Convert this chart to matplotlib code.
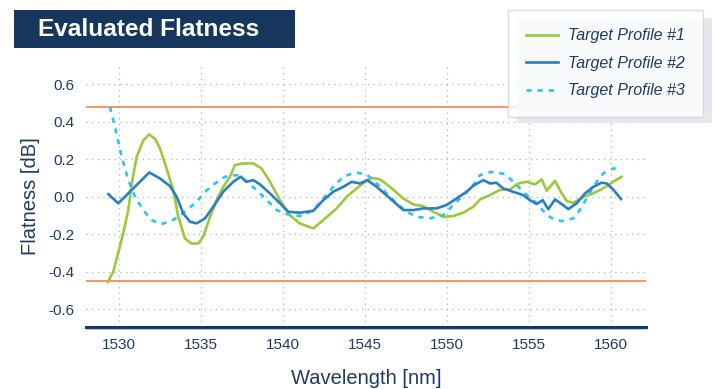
import matplotlib
matplotlib.use("Agg")
import matplotlib.pyplot as plt
from matplotlib.patches import Rectangle
from matplotlib.lines import Line2D

# data
wl_1 = [1529.3, 1529.63, 1530.24, 1530.55, 1530.76, 1531.06, 1531.46, 1531.81, 1532.18, 1532.48,
        1532.89, 1533.29, 1533.6, 1534.0, 1534.41, 1534.82, 1535.12, 1535.53, 1535.94, 1536.34,
        1536.75, 1537.05, 1537.56, 1538.17, 1538.68, 1539.19, 1539.8, 1540.4, 1541.0, 1541.83,
        1542.44, 1543.25, 1543.87, 1544.48, 1544.98, 1545.39, 1545.9, 1546.51, 1547.32, 1547.93,
        1548.54, 1549.15, 1549.76, 1550.37, 1550.98, 1551.59, 1552.0, 1552.6, 1553.2, 1553.82,
        1554.33, 1554.84, 1555.35, 1555.76, 1556.06, 1556.57, 1556.98, 1557.29, 1557.69, 1558.3,
        1558.9, 1559.51, 1560.12, 1560.63]
flat_1 = [-0.455, -0.40, -0.195, -0.07, 0.07, 0.213, 0.30, 0.333, 0.31, 0.258,
          0.15, 0.035, -0.107, -0.222, -0.25, -0.249, -0.213, -0.107, -0.018, 0.053,
          0.107, 0.169, 0.178, 0.178, 0.151, 0.08, -0.018, -0.098, -0.142, -0.169,
          -0.124, -0.062, 0.0, 0.045, 0.08, 0.101, 0.093, 0.053, -0.009, -0.041,
          -0.05, -0.08, -0.107, -0.103, -0.085, -0.053, -0.014, 0.009, 0.036, 0.039,
          0.071, 0.08, 0.066, 0.093, 0.032, 0.085, 0.018, -0.023, -0.032, 0.0,
          0.018, 0.045, 0.08, 0.107]

wl_2 = [1529.33, 1529.94, 1530.65, 1531.26, 1531.83, 1532.48, 1533.09, 1533.5, 1533.9, 1534.31,
        1534.72, 1535.23, 1535.73, 1536.34, 1536.95, 1537.4, 1537.77, 1538.17, 1538.58, 1539.19,
        1539.8, 1540.3, 1541.0, 1541.83, 1542.44, 1543.05, 1543.66, 1544.17, 1544.68, 1545.12,
        1545.7, 1546.51, 1547.32, 1547.93, 1548.54, 1549.35, 1549.96, 1550.57, 1551.18, 1551.6,
        1552.2, 1552.6, 1553.0, 1553.4, 1554.0, 1554.63, 1555.04, 1555.45, 1555.82, 1556.16,
        1556.57, 1556.98, 1557.38, 1557.89, 1558.4, 1558.9, 1559.41, 1559.72, 1560.12, 1560.59]
flat_2 = [0.014, -0.035, 0.027, 0.08, 0.13, 0.098, 0.057, 0.0, -0.089, -0.133,
          -0.142, -0.115, -0.053, 0.027, 0.08, 0.107, 0.08, 0.089, 0.066, 0.018,
          -0.035, -0.08, -0.085, -0.075, -0.018, 0.027, 0.053, 0.08, 0.071, 0.089,
          0.053, -0.009, -0.071, -0.071, -0.062, -0.062, -0.044, -0.009, 0.027, 0.06,
          0.089, 0.071, 0.075, 0.045, 0.027, 0.009, -0.018, -0.039, -0.018, -0.067,
          -0.014, -0.039, -0.066, -0.035, 0.018, 0.053, 0.075, 0.071, 0.039, -0.012]

wl_3 = [1529.43, 1529.74, 1530.15, 1530.55, 1530.96, 1531.46, 1531.98, 1532.48, 1533.09, 1533.6,
        1534.11, 1534.72, 1535.23, 1535.84, 1536.45, 1537.16, 1537.77, 1538.38, 1538.99, 1539.6,
        1540.4, 1541.22, 1541.93, 1542.44, 1543.05, 1543.66, 1544.38, 1545.09, 1545.7, 1546.31,
        1546.92, 1547.53, 1548.14, 1548.96, 1549.76, 1550.37, 1550.98, 1551.59, 1552.0, 1552.7,
        1553.52, 1554.13, 1554.74, 1555.35, 1555.85, 1556.32, 1556.98, 1557.69, 1558.16, 1558.6,
        1559.11, 1559.51, 1560.12, 1560.28]
flat_3 = [0.48, 0.37, 0.213, 0.089, 0.0, -0.071, -0.124, -0.147, -0.133, -0.107,
          -0.071, -0.027, 0.027, 0.071, 0.107, 0.116, 0.08, 0.036, -0.018, -0.071,
          -0.098, -0.103, -0.062, -0.009, 0.053, 0.107, 0.13, 0.119, 0.071, 0.018,
          -0.035, -0.08, -0.107, -0.115, -0.098, -0.044, 0.009, 0.062, 0.116, 0.133,
          0.121, 0.071, 0.018, -0.027, -0.075, -0.112, -0.13, -0.115, -0.062, 0.009,
          0.08, 0.125, 0.151, 0.15]

limits = [0.477, -0.451]
labels = ["Target Profile #1", "Target Profile #2", "Target Profile #3"]
x_ticks = [1530, 1535, 1540, 1545, 1550, 1555, 1560]
y_ticks = [-0.6, -0.4, -0.2, 0.0, 0.2, 0.4, 0.6]

navy = "#16365e"
txt = "#1f3b63"

plt.rcParams["font.family"] = ["Liberation Sans", "DejaVu Sans"]
plt.rcParams["axes.unicode_minus"] = False

W, H = 714, 389
fig = plt.figure(figsize=(W / 100, H / 100), dpi=100)
ax = fig.add_axes([86 / W, 1 - 327 / H, (645.7 - 86) / W, (327 - 66) / H])

ax.plot(wl_1, flat_1, color="#9bc93a", lw=1.9, label=labels[0], zorder=3)
ax.plot(wl_2, flat_2, color="#2a7fc4", lw=1.9, label=labels[1], zorder=4)
ax.plot(wl_3, flat_3, color="#29c5f6", lw=1.9, ls=(0, (2, 2.2)), label=labels[2], zorder=3)
for v in limits:
    ax.axhline(v, color="#f07a3c", lw=1.1, zorder=2)

ax.set_xlim(1527.97, 1562.1)
ax.set_ylim(-0.695, 0.698)
ax.set_xticks(x_ticks)
ax.set_yticks(y_ticks)
ax.set_yticklabels([f"{v:.1f}" for v in y_ticks])
ax.grid(True, ls=(0, (1, 3.5)), color="#aab3c4", lw=0.9)
ax.tick_params(length=0, labelsize=11, colors=txt, pad=8)
for s in ["top", "right", "left"]:
    ax.spines[s].set_visible(False)
ax.spines["bottom"].set_color(navy)
ax.spines["bottom"].set_linewidth(2.2)
fig.add_artist(Line2D([86 / W, 645.7 / W], [1 - 329 / H] * 2, color="#b8c4d8", lw=0.8))

ax.set_xlabel("Wavelength [nm]", fontsize=14.5, color=txt, labelpad=12)
ax.set_ylabel("Flatness [dB]", fontsize=14.5, color=txt, labelpad=6)

# title box
fig.add_artist(Rectangle((14 / W, 1 - 47.7 / H), (295 - 14) / W, (47.7 - 10.3) / H,
                         transform=fig.transFigure, facecolor=navy, edgecolor="none"))
fig.text(38 / W, 1 - 29 / H, "Evaluated Flatness", color="white", fontsize=17.6,
         fontweight="bold", va="center", ha="left")

# legend with flat shadow
fig.add_artist(Rectangle((516.7 / W, 1 - 122.7 / H), (711.7 - 516.7) / W, (122.7 - 18) / H,
                         transform=fig.transFigure, facecolor="#e4e8ee", edgecolor="none",
                         zorder=4))
leg = fig.legend(loc="upper left", bbox_to_anchor=(508 / W, 1 - 10 / H),
                 bbox_transform=fig.transFigure, borderaxespad=0, frameon=True,
                 fancybox=False, prop={"style": "italic", "size": 11.5},
                 borderpad=1.15, labelspacing=0.78, handlelength=2.0, handletextpad=0.6)
leg.set_zorder(5)
leg.get_frame().set_edgecolor("#d0d3d8")
leg.get_frame().set_linewidth(1.0)
for t in leg.get_texts():
    t.set_color(txt)

fig.savefig("out.png", dpi=100)
